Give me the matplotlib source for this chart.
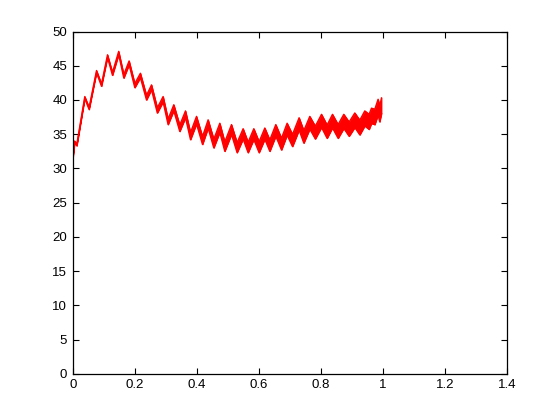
import numpy as np
import matplotlib
matplotlib.use("Agg")
import matplotlib.pyplot as plt

# Turning points of the oscillating signal (alternating: bottom of trough, top of peak)
turn_x = [0.000, 0.006, 0.013, 0.0387, 0.0526, 0.0765, 0.0926, 0.112, 0.128, 0.148,
          0.1645, 0.1816, 0.200, 0.218, 0.2377, 0.2539, 0.2726, 0.2913, 0.3074, 0.3258,
          0.345, 0.3635, 0.3797, 0.399, 0.4184, 0.4365, 0.4548, 0.4742, 0.4903, 0.5119,
          0.530, 0.5494, 0.5655, 0.5839, 0.601, 0.6194, 0.6355, 0.6548, 0.6732, 0.6913,
          0.7087, 0.730, 0.7452, 0.7645, 0.7823, 0.8023, 0.8203, 0.8377, 0.8558, 0.8742,
          0.8913, 0.9097, 0.9258, 0.9419, 0.9558, 0.9635, 0.9742, 0.9848, 0.990, 0.9958]
turn_y = [31.3, 34.0, 33.3, 40.5, 38.6, 44.3, 42.0, 46.6, 43.6, 47.1,
          43.2, 45.7, 41.8, 43.9, 40.0, 42.2, 38.1, 40.5, 36.4, 39.3,
          35.4, 38.4, 34.2, 37.6, 33.5, 37.1, 33.0, 36.6, 32.5, 36.4,
          32.3, 35.8, 32.3, 35.8, 32.3, 35.9, 32.5, 36.4, 32.7, 36.6,
          33.2, 37.4, 33.7, 37.6, 34.3, 37.9, 34.4, 37.9, 34.4, 37.9,
          34.7, 38.1, 34.9, 38.4, 35.7, 38.8, 36.4, 40.1, 36.8, 40.3]

# Thickness of the high-frequency ripple band along x
band_x = [0.0, 0.1, 0.2, 0.3, 0.4, 0.5, 0.6, 0.8, 1.0]
band_w = [0.25, 0.35, 0.6, 0.8, 1.1, 1.4, 1.6, 1.9, 2.3]

xticks = [0, 0.2, 0.4, 0.6, 0.8, 1, 1.2, 1.4]
xticklabels = ["0", "0.2", "0.4", "0.6", "0.8", "1", "1.2", "1.4"]
yticks = [0, 5, 10, 15, 20, 25, 30, 35, 40, 45, 50]

plt.rcParams['font.family'] = ['Liberation Sans', 'DejaVu Sans']

fig = plt.figure(figsize=(5.6, 4.2), dpi=100)
ax = fig.add_axes([0.13, 0.11, 0.775, 0.815])

tx = np.array(turn_x)
ty = np.array(turn_y)
w = np.interp(tx, band_x, band_w)
is_peak = (np.arange(len(tx)) % 2) == 1
upper = np.where(is_peak, ty, ty + w)
lower = np.where(is_peak, ty - w, ty)

ax.fill_between(tx, lower, upper, color='#ff0000', linewidth=0.6, edgecolor='#ff0000')
ax.plot(tx, upper, color='#ff0000', linewidth=1.0)
ax.plot(tx, lower, color='#ff0000', linewidth=1.0)

ax.set_xlim(0, 1.4)
ax.set_ylim(0, 50)
ax.set_xticks(xticks)
ax.set_xticklabels(xticklabels)
ax.set_yticks(yticks)
ax.tick_params(direction='in', top=True, right=True, length=4, width=0.8,
               labelsize=9.5, pad=4)
for s in ax.spines.values():
    s.set_linewidth(0.9)

fig.savefig("out.png", dpi=100)
